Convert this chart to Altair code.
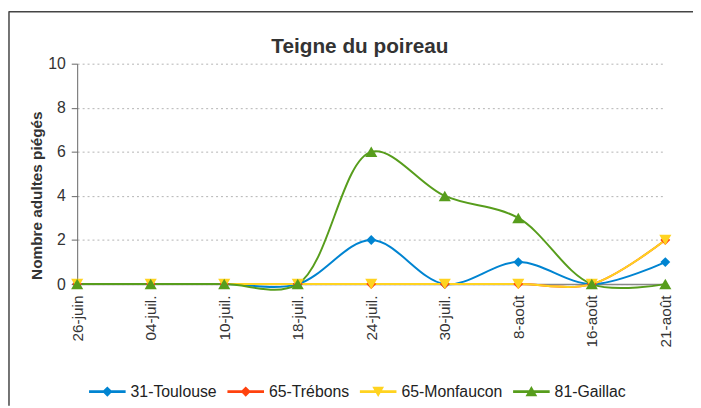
import altair as alt
import pandas as pd

dates = ["26-juin", "04-juil.", "10-juil.", "18-juil.", "24-juil.", "30-juil.", "8-août", "16-août", "21-août"]
series = ["31-Toulouse", "65-Trébons", "65-Monfaucon", "81-Gaillac"]
toulouse = [0, 0, 0, 0, 2, 0, 1, 0, 1]
trebons = [0, 0, 0, 0, 0, 0, 0, 0, 2]
monfaucon = [0, 0, 0, 0, 0, 0, 0, 0, 2]
gaillac = [0, 0, 0, 0, 6, 4, 3, 0, 0]
title_text = "Teigne du poireau"
y_title = "Nombre adultes piégés"

colors = ["#0084D1", "#FF420E", "#FFD320", "#579D1C"]
shapes = ["diamond", "diamond", "triangle-down", "triangle-up"]
legend_paths = [
    "M-1,-0.07H1V0.07H-1Z M0,-0.28L0.28,0L0,0.28L-0.28,0Z",
    "M-1,-0.07H1V0.07H-1Z M0,-0.28L0.28,0L0,0.28L-0.28,0Z",
    "M-1,-0.07H1V0.07H-1Z M-0.32,-0.26L0.32,-0.26L0,0.3Z",
    "M-1,-0.07H1V0.07H-1Z M0,-0.3L0.32,0.26L-0.32,0.26Z",
]

rows = []
for name, vals in zip(series, [toulouse, trebons, monfaucon, gaillac]):
    for d, v in zip(dates, vals):
        rows.append({"date": d, "val": v, "serie": name})
df = pd.DataFrame(rows)

FONT = "Liberation Sans"

x_enc = alt.X("date:N", sort=dates, scale=alt.Scale(type="point", padding=0),
              axis=alt.Axis(title=None, labelAngle=270, labelFontSize=15.5, labelColor="#333",
                            labelFont=FONT, ticks=False, labelPadding=11, grid=False,
                            domainColor="#888", domainWidth=1.5))
y_enc = alt.Y("val:Q", scale=alt.Scale(domain=[0, 10], nice=False),
              axis=alt.Axis(title=y_title, values=[0, 2, 4, 6, 8, 10],
                            titleFont=FONT, titleFontSize=15.5, titleFontWeight="bold",
                            titleColor="#333", titleAngle=270, titleX=-41, titleY=133,
                            titleAlign="center", titleBaseline="middle",
                            labelFont=FONT, labelFontSize=16, labelColor="#333",
                            tickSize=6, tickColor="#666", labelPadding=6,
                            domainColor="#666", grid=True, gridColor="#b3b3b3",
                            gridDash=[2, 3], gridWidth=1))

color_sc = alt.Scale(domain=series, range=colors)

lines = alt.Chart(df).mark_line(interpolate="catmull-rom", strokeWidth=2).encode(
    x=x_enc, y=y_enc,
    color=alt.Color("serie:N", scale=color_sc, legend=None),
    detail="serie:N",
)
points = alt.Chart(df).mark_point(filled=True, opacity=1).encode(
    x=x_enc, y=y_enc,
    color=alt.Color("serie:N", scale=color_sc, legend=None),
    shape=alt.Shape("serie:N", scale=alt.Scale(domain=series, range=shapes), legend=None),
    size=alt.condition("datum.serie == '81-Gaillac' || datum.serie == '65-Monfaucon'",
                       alt.value(150), alt.value(100)),
)
legend_layer = alt.Chart(df).mark_point(filled=True, opacity=1).encode(
    x=x_enc, y=y_enc,
    color=alt.Color("serie:N", scale=color_sc,
                    legend=alt.Legend(title=None, orient="none", direction="horizontal",
                                      legendX=12, legendY=313, labelFont=FONT,
                                      labelFontSize=16, labelColor="#222",
                                      symbolSize=1369, columnPadding=10, labelOffset=5,
                                      symbolStrokeWidth=0)),
    shape=alt.Shape("serie:N", scale=alt.Scale(domain=series, range=legend_paths)),
).transform_filter("false")

single = pd.DataFrame({"k": [0]})
title_mark = alt.Chart(single).mark_text(
    font=FONT, fontSize=21, fontWeight="bold", color="#333", align="center",
    baseline="alphabetic").encode(
    x=alt.value(286), y=alt.value(-10.5), text=alt.value(title_text))
left_b = alt.Chart(single).mark_rule(color="#444", strokeWidth=1.5).encode(
    x=alt.value(-69), y=alt.value(-53), y2=alt.value(346))
top_b = alt.Chart(single).mark_rule(color="#444", strokeWidth=1.5).encode(
    y=alt.value(-52.5), x=alt.value(-69), x2=alt.value(623))

chart = alt.layer(lines, points, legend_layer, title_mark, left_b, top_b).resolve_scale(
    color="independent", shape="independent"
).properties(
    width=595, height=223,
    autosize=alt.AutoSizeParams(type="none"),
    padding={"left": 70, "top": 54, "right": 28, "bottom": 123},
).configure_view(stroke=None)

chart.save("out.html", embed_options={"renderer": "svg", "actions": False})
